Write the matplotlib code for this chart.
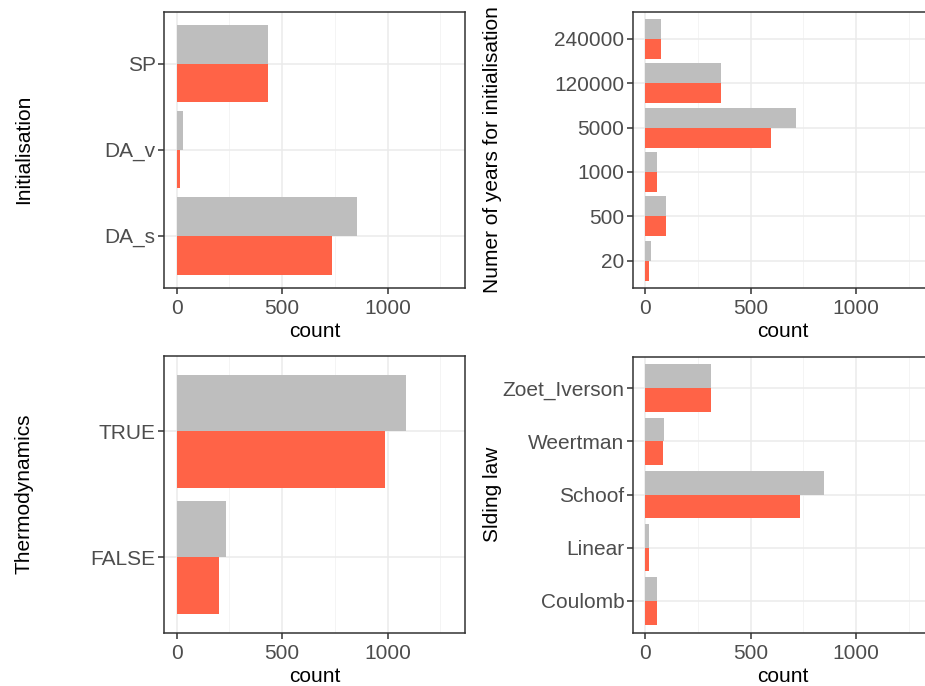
import numpy as np
import matplotlib
matplotlib.use("Agg")
import matplotlib.pyplot as plt

plt.rcParams['font.family'] = ['Liberation Sans', 'DejaVu Sans']

# Данные (серые - все, красные - выборка)
init_cats = ["DA_s", "DA_v", "SP"]
init_gray = [856, 28, 435]
init_red = [736, 17, 435]

years_cats = ["20", "500", "1000", "5000", "120000", "240000"]
years_gray = [30, 99, 57, 716, 360, 77]
years_red = [20, 99, 57, 596, 360, 77]

thermo_cats = ["FALSE", "TRUE"]
thermo_gray = [232, 1087]
thermo_red = [202, 987]

slide_cats = ["Coulomb", "Linear", "Schoof", "Weertman", "Zoet_Iverson"]
slide_gray = [57, 20, 849, 88, 313]
slide_red = [57, 16, 734, 83, 313]

GRAY = "#BEBEBE"
RED = "#FF6347"
W, H = 925, 686


# Одна панель в стиле ggplot theme_bw
def panel(fig, box, cats, gray, red, ylabel):
    left, top, right, bottom = box
    ax = fig.add_axes([left / W, (H - bottom) / H, (right - left) / W, (bottom - top) / H])
    y = np.arange(len(cats))
    ax.barh(y + 0.225, gray, height=0.45, color=GRAY, zorder=3)
    ax.barh(y - 0.225, red, height=0.45, color=RED, zorder=3)
    ax.set_xlim(-60, 1367)
    ax.set_ylim(-0.6, len(cats) - 0.4)
    ax.set_yticks(y)
    ax.set_yticklabels(cats)
    ax.set_xticks([0, 500, 1000])
    ax.set_xticks([250, 750, 1250], minor=True)
    ax.grid(True, which="major", color="#EBEBEB", linewidth=1.1, zorder=0)
    ax.grid(True, which="minor", axis="x", color="#F2F2F2", linewidth=0.6, zorder=0)
    ax.set_axisbelow(True)
    ax.tick_params(axis="both", which="major", labelsize=15, labelcolor="#4D4D4D",
                   color="#333333", length=4, width=1.1, pad=2)
    ax.tick_params(axis="x", which="major", pad=4)
    ax.tick_params(axis="both", which="minor", length=0)
    for s in ax.spines.values():
        s.set_color("#333333")
        s.set_linewidth(1.1)
    ax.set_xlabel("count", fontsize=15, color="black", labelpad=3)
    ax.set_ylabel(ylabel, fontsize=15, color="black")
    ax.yaxis.set_label_coords(-0.435, 0.5)
    return ax


fig = plt.figure(figsize=(W / 100, H / 100), dpi=100)
panel(fig, (164, 12, 465, 287.5), init_cats, init_gray, init_red, "Initialisation")
panel(fig, (632.5, 12, 933.5, 287.5), years_cats, years_gray, years_red,
      "Numer of years for initialisation")
panel(fig, (164, 356, 465, 632.5), thermo_cats, thermo_gray, thermo_red, "Thermodynamics")
panel(fig, (632.5, 356.5, 933.5, 632.5), slide_cats, slide_gray, slide_red, "Slding law")

fig.savefig("out.png", dpi=100, facecolor="white")
